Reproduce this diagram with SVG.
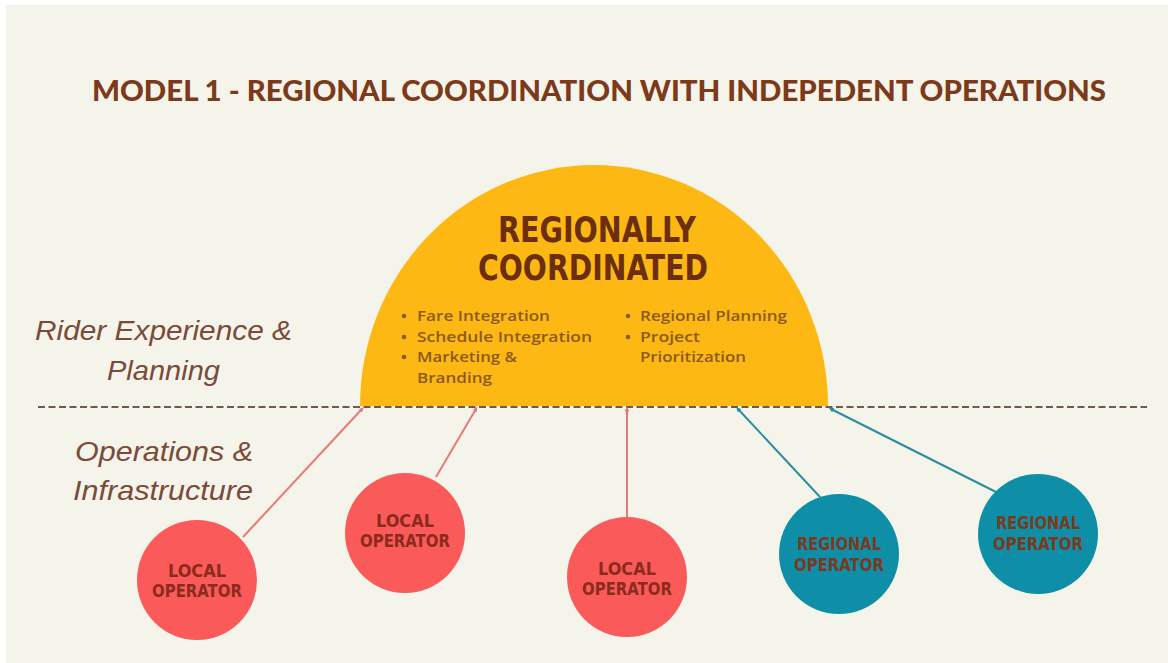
<svg xmlns="http://www.w3.org/2000/svg" width="1168" height="663" viewBox="0 0 1168 663">
<defs>
<style>
.title{font-family:"Lato","Liberation Sans",sans-serif;font-weight:900;font-size:28px;fill:#7d3a1a}
.big{font-family:"DejaVu Sans Condensed","Liberation Sans",sans-serif;font-weight:bold;font-size:35px;fill:#6b2e0e;font-stretch:condensed}
.bul{font-family:"Open Sans","Liberation Sans",sans-serif;font-weight:600;font-size:15px;fill:#8b5a1b}
.side{font-family:"Liberation Sans",Arial,sans-serif;font-style:italic;font-size:28px;fill:#7a4b3a}
.op{font-family:"DejaVu Sans Condensed","Liberation Sans",sans-serif;font-weight:bold;font-size:17px;text-anchor:middle}
.loc{fill:#fa5a5a}
.reg{fill:#0f8ea8}
.loct{fill:#8c2a1c}
.regt{fill:#7a3b1d}
.lc{stroke:#e8797b;stroke-width:2;fill:none}
.rc{stroke:#2a8e9e;stroke-width:2;fill:none}
</style>
<marker id="mp" viewBox="0 0 8 8" refX="4" refY="4" markerWidth="5" markerHeight="5" markerUnits="userSpaceOnUse" orient="auto"><path d="M0,0 L8,4 L0,8 Z" fill="#e8797b"/></marker>
<marker id="mt" viewBox="0 0 8 8" refX="4" refY="4" markerWidth="5" markerHeight="5" markerUnits="userSpaceOnUse" orient="auto"><path d="M0,0 L8,4 L0,8 Z" fill="#2a8e9e"/></marker>
</defs>
<rect x="0" y="0" width="1168" height="663" fill="#ffffff"/>
<rect x="6" y="5" width="1162" height="658" fill="#f5f4ea"/>
<text class="title" x="92" y="101" textLength="1014" lengthAdjust="spacingAndGlyphs">MODEL 1 - REGIONAL COORDINATION WITH INDEPEDENT OPERATIONS</text>

<g id="regional-coordinated">
<path d="M360,406 A234,241 0 0 1 828,406 Z" fill="#fdb813"/>
<text class="big" x="498" y="242" textLength="198" lengthAdjust="spacingAndGlyphs">REGIONALLY</text>
<text class="big" x="478" y="280" textLength="230" lengthAdjust="spacingAndGlyphs">COORDINATED</text>
<g class="bul">
<circle cx="404" cy="316" r="2.3" fill="#8b5a1b"/>
<circle cx="404" cy="337" r="2.3" fill="#8b5a1b"/>
<circle cx="404" cy="357" r="2.3" fill="#8b5a1b"/>
<circle cx="628" cy="316" r="2.3" fill="#8b5a1b"/>
<circle cx="628" cy="337" r="2.3" fill="#8b5a1b"/>
<text x="417" y="321" textLength="133" lengthAdjust="spacingAndGlyphs">Fare Integration</text>
<text x="417" y="342" textLength="175" lengthAdjust="spacingAndGlyphs">Schedule Integration</text>
<text x="417" y="362" textLength="100" lengthAdjust="spacingAndGlyphs">Marketing &amp;</text>
<text x="417" y="383" textLength="75" lengthAdjust="spacingAndGlyphs">Branding</text>
<text x="640" y="321" textLength="147" lengthAdjust="spacingAndGlyphs">Regional Planning</text>
<text x="640" y="342" textLength="60" lengthAdjust="spacingAndGlyphs">Project</text>
<text x="640" y="362" textLength="106" lengthAdjust="spacingAndGlyphs">Prioritization</text>
</g>
</g>

<g id="layer-labels">
<text class="side" x="35" y="340" textLength="257" lengthAdjust="spacingAndGlyphs">Rider Experience &amp;</text>
<text class="side" x="107" y="380" textLength="113" lengthAdjust="spacingAndGlyphs">Planning</text>
<text class="side" x="75" y="461" textLength="178" lengthAdjust="spacingAndGlyphs">Operations &amp;</text>
<text class="side" x="73" y="500" textLength="180" lengthAdjust="spacingAndGlyphs">Infrastructure</text>
</g>

<line x1="38" y1="407" x2="1147" y2="407" stroke="#6e5a50" stroke-width="2" stroke-dasharray="7 3.5"/>

<g id="connectors">
<line class="lc" x1="243" y1="537" x2="362" y2="409" marker-end="url(#mp)"/>
<line class="lc" x1="436" y1="477" x2="476" y2="409" marker-end="url(#mp)"/>
<line class="lc" x1="627" y1="517" x2="627" y2="409" marker-end="url(#mp)"/>
<line class="rc" x1="820" y1="497" x2="738" y2="409" marker-end="url(#mt)"/>
<line class="rc" x1="996" y1="492" x2="831" y2="409" marker-end="url(#mt)"/>
</g>

<g id="local-1">
<circle class="loc" cx="197" cy="580" r="60"/>
<text class="op loct" x="197" y="577" textLength="58" lengthAdjust="spacingAndGlyphs">LOCAL</text>
<text class="op loct" x="197" y="597" textLength="90" lengthAdjust="spacingAndGlyphs">OPERATOR</text>
</g>
<g id="local-2">
<circle class="loc" cx="405" cy="533" r="60"/>
<text class="op loct" x="405" y="527" textLength="58" lengthAdjust="spacingAndGlyphs">LOCAL</text>
<text class="op loct" x="405" y="547" textLength="90" lengthAdjust="spacingAndGlyphs">OPERATOR</text>
</g>
<g id="local-3">
<circle class="loc" cx="627" cy="577" r="60"/>
<text class="op loct" x="627" y="575" textLength="58" lengthAdjust="spacingAndGlyphs">LOCAL</text>
<text class="op loct" x="627" y="595" textLength="90" lengthAdjust="spacingAndGlyphs">OPERATOR</text>
</g>
<g id="regional-1">
<circle class="reg" cx="839" cy="554" r="60"/>
<text class="op regt" x="839" y="550" textLength="84" lengthAdjust="spacingAndGlyphs">REGIONAL</text>
<text class="op regt" x="839" y="571" textLength="90" lengthAdjust="spacingAndGlyphs">OPERATOR</text>
</g>
<g id="regional-2">
<circle class="reg" cx="1038" cy="534" r="60"/>
<text class="op regt" x="1038" y="529" textLength="84" lengthAdjust="spacingAndGlyphs">REGIONAL</text>
<text class="op regt" x="1038" y="550" textLength="90" lengthAdjust="spacingAndGlyphs">OPERATOR</text>
</g>
</svg>
